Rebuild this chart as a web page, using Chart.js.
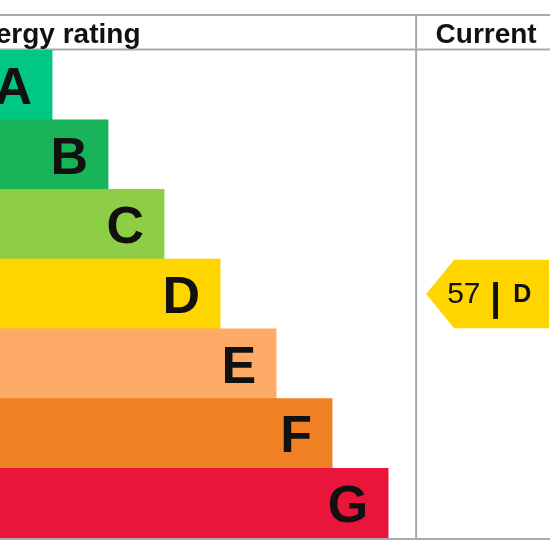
<!DOCTYPE html>
<html>
<head>
<meta charset="utf-8">
<script src="https://cdn.jsdelivr.net/npm/chart.js@4.4.0/dist/chart.umd.min.js"></script>
<style>
    html, body { margin: 0; padding: 0; background: #ffffff; }
    #wrap { width: 550px; height: 550px; position: relative; }
</style>
</head>
<body>
<div id="wrap"><canvas id="epcChart"></canvas></div>
<script>
const bands = ['A', 'B', 'C', 'D', 'E', 'F', 'G'];
const barLengths = [1, 2, 3, 4, 5, 6, 7];
const bandColours = ['#00c781', '#19b459', '#8dce46', '#ffd500', '#fcaa65', '#ef8023', '#e9153b'];
const currentScore = 57;
const currentBand = 'D';
const headers = ['Energy rating', 'Current'];

const FONT = "'Liberation Sans', Arial, sans-serif";
const LINE = '#a9a9a9';

// table lines, drawn under the bars
const tablePlugin = {
    id: 'table',
    beforeDatasetsDraw(chart) {
        const ctx = chart.ctx;
        const area = chart.chartArea;
        const divX = chart.scales.x.getPixelForValue(7.5);
        ctx.save();
        ctx.strokeStyle = LINE;
        ctx.lineWidth = 2;
        ctx.beginPath();
        ctx.moveTo(0, 15); ctx.lineTo(chart.width, 15);
        ctx.moveTo(0, area.top - 0.5); ctx.lineTo(chart.width, area.top - 0.5);
        ctx.moveTo(0, area.bottom + 1); ctx.lineTo(chart.width, area.bottom + 1);
        ctx.moveTo(divX, 14); ctx.lineTo(divX, area.bottom + 2);
        ctx.stroke();

        ctx.fillStyle = '#111111';
        ctx.font = 'bold 28px ' + FONT;
        ctx.textBaseline = 'alphabetic';
        ctx.textAlign = 'left';
        ctx.fillText(headers[0], -40, 43);
        ctx.textAlign = 'center';
        ctx.fillText(headers[1], divX + 70, 43);
        ctx.restore();
    },
    afterDatasetsDraw(chart) {
        const ctx = chart.ctx;
        const meta = chart.getDatasetMeta(0);
        ctx.save();
        // band letters at the end of each bar
        ctx.fillStyle = '#111111';
        ctx.font = 'bold 52px ' + FONT;
        ctx.textAlign = 'right';
        ctx.textBaseline = 'alphabetic';
        meta.data.forEach((bar, i) => {
            ctx.fillText(bands[i], bar.x - 20, bar.y + 19);
        });

        // current rating arrow
        const y = chart.scales.y;
        const idx = bands.indexOf(currentBand);
        const cy = y.getPixelForValue(idx);
        const half = y.getPixelForValue(1) - y.getPixelForValue(0);
        const top = cy - half / 2 + 0.5;
        const bottom = cy + half / 2 - 0.5;
        const tip = chart.scales.x.getPixelForValue(7.5) + 10;
        ctx.fillStyle = bandColours[idx];
        ctx.beginPath();
        ctx.moveTo(tip, cy);
        ctx.lineTo(tip + 28, top);
        ctx.lineTo(chart.width - 1, top);
        ctx.lineTo(chart.width - 1, bottom);
        ctx.lineTo(tip + 28, bottom);
        ctx.closePath();
        ctx.fill();

        ctx.fillStyle = '#111111';
        ctx.textAlign = 'left';
        ctx.textBaseline = 'middle';
        ctx.font = '30px ' + FONT;
        ctx.fillText(String(currentScore), tip + 21, cy + 1);
        ctx.font = 'bold 38px ' + FONT;
        ctx.fillText('|', tip + 64, cy + 6);
        ctx.font = 'bold 25px ' + FONT;
        ctx.fillText(currentBand, tip + 87, cy + 1);
        ctx.restore();
    }
};

function createEpcChart() {
    const epcCtx = document.getElementById('epcChart').getContext('2d');

    const epcChartConfig = {
        type: 'bar',
        data: {
            labels: bands,
            datasets: [{
                data: barLengths,
                backgroundColor: bandColours,
                borderWidth: 0,
                barPercentage: 1,
                categoryPercentage: 1
            }]
        },
        options: {
            indexAxis: 'y',
            responsive: true,
            maintainAspectRatio: false,
            animation: false,
            layout: { padding: { top: 50, bottom: 12, left: 0, right: 0 } },
            plugins: {
                legend: { display: false },
                tooltip: { enabled: false }
            },
            scales: {
                x: { display: false, min: 0.07, max: 9.89 },
                y: { display: false }
            }
        },
        plugins: [tablePlugin]
    };

    new Chart(epcCtx, epcChartConfig);
}

createEpcChart();
</script>
</body>
</html>
